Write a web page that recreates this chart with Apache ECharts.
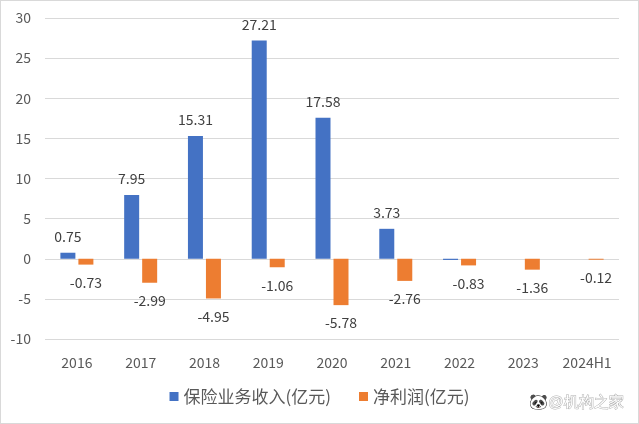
<!DOCTYPE html>
<html><head><meta charset="utf-8">
<script src="https://cdn.jsdelivr.net/npm/echarts@6/dist/echarts.min.js"></script>
<style>html,body{margin:0;padding:0;background:#fff}#c{width:637px;height:422px;border:1px solid #d9d9d9}</style>
</head><body><div id="c"></div>
<script>
const categories = ['2016','2017','2018','2019','2020','2021','2022','2023','2024H1'];
const premiumIncome = [0.75, 7.95, 15.31, 27.21, 17.58, 3.73, -0.15, 0, 0];
const premiumLabelShown = [true, true, true, true, true, true, false, false, false];
const netProfit = [-0.73, -2.99, -4.95, -1.06, -5.78, -2.76, -0.83, -1.36, -0.12];
const yTicks = {min: -10, max: 30, interval: 5};

const chart = echarts.init(document.getElementById('c'));
const font = '"Microsoft YaHei","Noto Sans CJK SC","Noto Sans",sans-serif';
chart.setOption({
  animation: false,
  textStyle: {fontFamily: font},
  grid: {left: 44, right: 19, top: 17, bottom: 84},
  legend: {
    bottom: 13, left: 'center', itemWidth: 9, itemHeight: 9, itemGap: 28,
    icon: 'rect',
    textStyle: {fontSize: 17, color: '#595959', fontFamily: font},
    data: ['保险业务收入(亿元)', '净利润(亿元)']
  },
  xAxis: {
    type: 'category', data: categories,
    axisLine: {show: false}, axisTick: {show: false},
    axisLabel: {fontSize: 14, color: '#595959', margin: 17}
  },
  yAxis: {
    type: 'value', min: yTicks.min, max: yTicks.max, interval: yTicks.interval,
    axisLine: {show: false}, axisTick: {show: false},
    axisLabel: {fontSize: 14, color: '#595959', margin: 14},
    splitLine: {lineStyle: {color: '#d9d9d9', width: 1}}
  },
  series: [
    {
      name: '保险业务收入(亿元)', type: 'bar', barWidth: 15, barGap: '20%',
      itemStyle: {color: '#4472c4'},
      data: premiumIncome.map((v, i) => ({value: v, label: {show: premiumLabelShown[i]}})),
      label: {show: true, position: 'top', distance: 9, fontSize: 14, color: '#404040'}
    },
    {
      name: '净利润(亿元)', type: 'bar', barWidth: 15,
      itemStyle: {color: '#ed7d31'},
      data: netProfit,
      label: {show: true, position: 'bottom', distance: 11, fontSize: 14, color: '#404040'}
    }
  ],
  graphic: [{
    type: 'text', right: 14, bottom: 12,
    style: {text: '🐼@机构之家', fontSize: 15, fill: '#ffffff', stroke: '#b0b0b0', lineWidth: 1, font: '15px ' + font}
  }]
});
</script></body></html>
